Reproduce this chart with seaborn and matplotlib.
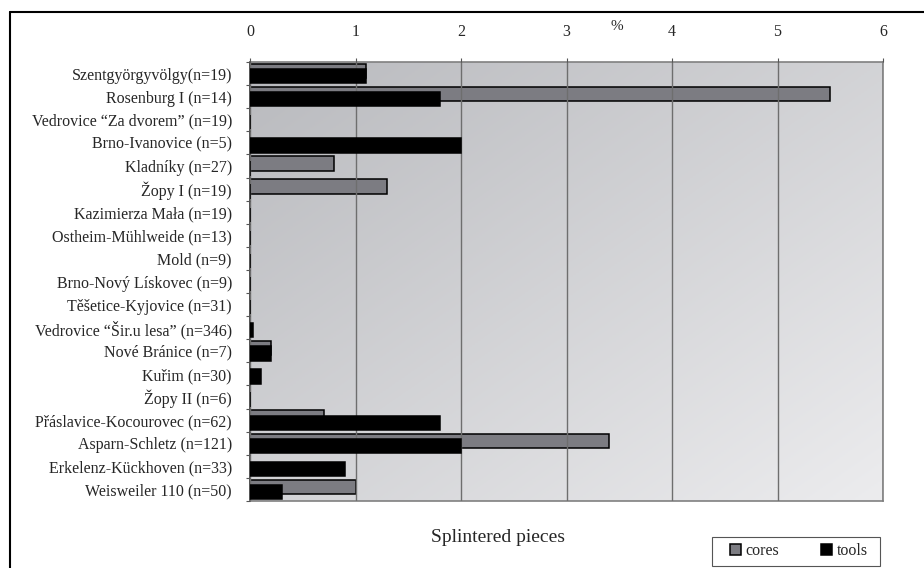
import numpy as np
import pandas as pd
import matplotlib.pyplot as plt
import seaborn as sns
from matplotlib.lines import Line2D
from matplotlib.patches import Patch, Rectangle

sites = [
    "Szentgyörgyvölgy(n=19)", "Rosenburg I (n=14)", "Vedrovice \u201cZa dvorem\u201d (n=19)",
    "Brno-Ivanovice (n=5)", "Kladníky (n=27)", "Žopy I (n=19)", "Kazimierza Mała (n=19)",
    "Ostheim-Mühlweide (n=13)", "Mold (n=9)", "Brno-Nový Lískovec (n=9)",
    "Těšetice-Kyjovice (n=31)", "Vedrovice \u201cŠir.u lesa\u201d (n=346)", "Nové Bránice (n=7)",
    "Kuřim (n=30)", "Žopy II (n=6)", "Přáslavice-Kocourovec (n=62)",
    "Asparn-Schletz (n=121)", "Erkelenz-Kückhoven (n=33)", "Weisweiler 110 (n=50)",
]
cores = [1.1, 5.5, 0, 0, 0.8, 1.3, 0, 0, 0, 0, 0, 0, 0.2, 0, 0, 0.7, 3.4, 0, 1.0]
tools = [1.1, 1.8, 0, 2.0, 0, 0, 0, 0, 0, 0, 0, 0.03, 0.2, 0.1, 0, 1.8, 2.0, 0.9, 0.3]

CORE_COLOR = "#7c7c82"
TOOL_COLOR = "#000000"

sns.set_style("white")
plt.rcParams["font.family"] = ["Liberation Serif", "DejaVu Serif"]

df = pd.DataFrame({"site": sites, "cores": cores, "tools": tools})

fig = plt.figure(figsize=(9.24, 5.68), dpi=100)
ax = fig.add_axes([250 / 924, 1 - 501 / 568, 633 / 924, 439 / 568])

# gradient background of the plot area
grad = np.add.outer(np.linspace(0, 1, 200), np.linspace(0, 1, 200)) / 2
ax.imshow(grad, cmap=plt.matplotlib.colors.LinearSegmentedColormap.from_list(
    "bg", ["#b9babe", "#ececee"]), extent=[0, 1, 0, 1], transform=ax.transAxes,
    aspect="auto", zorder=0)

bar_h = 0.62
shift = 0.11
sns.barplot(data=df, x="cores", y="site", orient="h", color=CORE_COLOR,
            width=bar_h, edgecolor="black", linewidth=1.1, saturation=1,
            ax=ax, zorder=2)
n_core = len(ax.patches)
for p in ax.patches:
    p.set_y(p.get_y() - shift)
sns.barplot(data=df, x="tools", y="site", orient="h", color=TOOL_COLOR,
            width=bar_h, edgecolor="black", linewidth=1.1, saturation=1,
            ax=ax, zorder=3)
for p in ax.patches[n_core:]:
    p.set_y(p.get_y() + shift)

ax.set_xlim(0, 6)
ax.set_ylim(len(sites) - 0.5, -0.5)
ax.set_xticks(range(7))
ax.xaxis.tick_top()
ax.tick_params(axis="x", top=True, length=3, width=0.8, color="#555555",
               labelsize=11.5, pad=13)
ax.tick_params(axis="y", which="major", length=0, labelsize=11.5, pad=13)
ax.set_yticks(np.arange(-0.5, len(sites), 1), minor=True)
ax.tick_params(axis="y", which="minor", left=True, length=3, width=0.8, color="#555555")
ax.grid(axis="x", color="#6e6e6e", lw=1, zorder=1)
ax.set_axisbelow(False)
for line in ax.get_xgridlines():
    line.set_zorder(1)
ax.set_xlabel("")
ax.set_ylabel("")

for side in ["top", "right", "bottom"]:
    ax.spines[side].set_color("#808080")
    ax.spines[side].set_linewidth(1.2)
ax.spines["left"].set_color("#333333")
ax.spines["left"].set_linewidth(1.2)

fig.text(617 / 924, 1 - 26 / 568, "%", ha="center", va="center", fontsize=11)
fig.text(498 / 924, 1 - 537 / 568, "Splintered pieces", ha="center", va="center", fontsize=14)

# legend box
fig.add_artist(Rectangle((712 / 924, 1 - 566 / 568), 168 / 924, 29 / 568,
                         transform=fig.transFigure, facecolor="white",
                         edgecolor="#555555", lw=0.8))
handles = [Patch(facecolor=CORE_COLOR, edgecolor="black", lw=1.1, label="cores"),
           Patch(facecolor=TOOL_COLOR, edgecolor="black", lw=1.1, label="tools")]
fig.legend(handles=handles, loc="center", bbox_to_anchor=(799 / 924, 1 - 551 / 568),
           ncol=2, frameon=False, fontsize=11.5,
           handlelength=0.7, handleheight=0.7, handletextpad=0.3,
           columnspacing=2.6)

# outer frame (top and left edges)
fig.add_artist(Line2D([10 / 924, 1], [1 - 12 / 568, 1 - 12 / 568], color="black", lw=1.5))
fig.add_artist(Line2D([10 / 924, 10 / 924], [0, 1 - 12 / 568], color="black", lw=1.5))

fig.savefig("out.png", dpi=100)
